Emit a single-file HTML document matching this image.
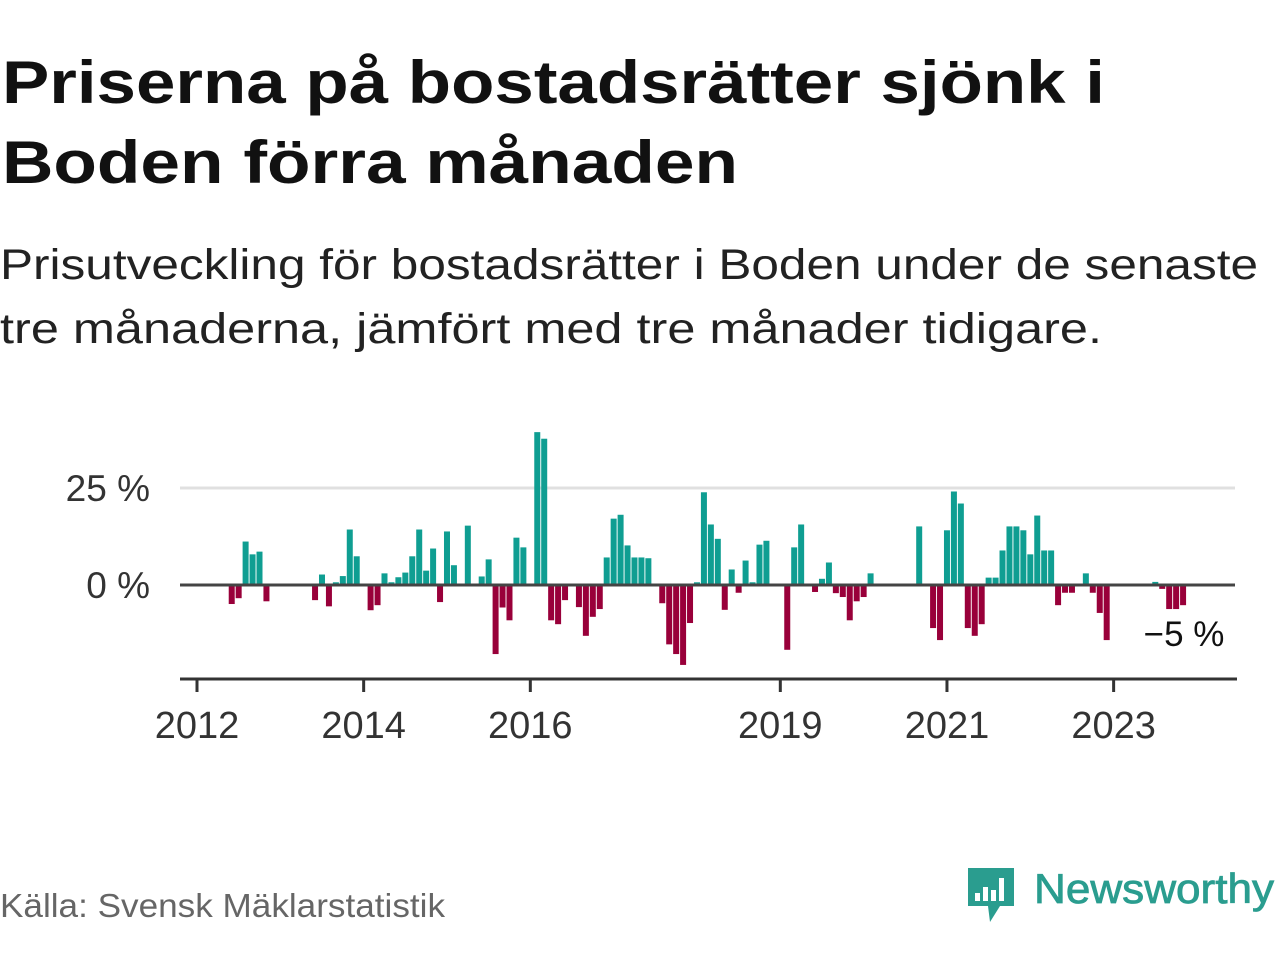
<!DOCTYPE html>
<html><head><meta charset="utf-8"><style>
html,body{margin:0;padding:0;background:#fff;}
svg{display:block;font-family:"Liberation Sans",sans-serif;}
</style></head><body>
<svg id="chart" width="1280" height="960" viewBox="0 0 1280 960">
<text x="2" y="103" font-size="60" font-weight="bold" fill="#111" textLength="1103" lengthAdjust="spacingAndGlyphs">Priserna på bostadsrätter sjönk i</text>
<text x="2" y="183" font-size="60" font-weight="bold" fill="#111" textLength="736" lengthAdjust="spacingAndGlyphs">Boden förra månaden</text>
<text x="0" y="279" font-size="43" fill="#222" textLength="1258" lengthAdjust="spacingAndGlyphs">Prisutveckling för bostadsrätter i Boden under de senaste</text>
<text x="0" y="343" font-size="43" fill="#222" textLength="1102" lengthAdjust="spacingAndGlyphs">tre månaderna, jämfört med tre månader tidigare.</text>
<g id="grid"></g>
<g id="bars"></g>
<g id="axis"></g>
<text x="1184" y="646" font-size="35" fill="#111" text-anchor="middle">−5 %</text>
<text x="0" y="917" font-size="33" fill="#666" textLength="445" lengthAdjust="spacingAndGlyphs">Källa: Svensk Mäklarstatistik</text>
<g>
<path d="M968 868 H1014 V906 H1000 L990 922 L988 906 H968 Z" fill="#2a9d8f"/>
<rect x="975" y="893" width="5" height="8" fill="#fff"/><rect x="983" y="887" width="5" height="14" fill="#fff"/><rect x="991" y="890" width="5" height="11" fill="#fff"/><rect x="999" y="878" width="5" height="23" fill="#fff"/>
<text x="1034" y="903" font-size="42" fill="#2a9d8f" stroke="#2a9d8f" stroke-width="0.8" textLength="240" lengthAdjust="spacingAndGlyphs">Newsworthy</text>
</g>
</svg>
<script>
const months = [5,6,7,8,9,10,17,18,19,20,21,22,23,25,26,27,28,29,30,31,32,33,34,35,36,37,39,41,42,43,44,45,46,47,49,50,51,52,53,55,56,57,58,59,60,61,62,63,64,65,67,68,69,70,71,72,73,74,75,76,77,78,79,80,81,82,85,86,87,89,90,91,92,93,94,95,96,97,104,106,107,108,109,110,111,112,113,114,115,116,117,118,119,120,121,122,123,124,125,126,128,129,130,131,138,139,140,141,142];
const values = [-4.9,-3.4,11.2,7.9,8.6,-4.2,-3.9,2.7,-5.5,0.7,2.3,14.3,7.4,-6.5,-5.2,3.0,0.7,2.0,3.2,7.4,14.3,3.7,9.4,-4.4,13.8,5.1,15.3,2.2,6.6,-17.8,-5.8,-9.1,12.2,9.7,39.4,37.7,-9.1,-10.1,-3.9,-5.7,-13.1,-8.2,-6.2,7.1,17.1,18.1,10.2,7.1,7.1,6.9,-4.7,-15.3,-17.8,-20.6,-9.8,0.7,23.9,15.6,11.9,-6.4,4.0,-2.0,6.3,0.7,10.4,11.4,-16.7,9.7,15.6,-1.8,1.6,5.8,-2.1,-3.1,-9.1,-4.2,-3.1,3.0,15.1,-11.1,-14.2,14.1,24.1,21.0,-11.1,-13.1,-10.1,1.9,1.9,8.9,15.1,15.1,14.1,7.9,17.9,8.9,8.9,-5.2,-2.0,-2.0,3.0,-2.0,-7.2,-14.2,0.8,-1.0,-6.2,-6.2,-5.2];
const yTicks = [0, 25];
const yTickLabels = ["0 %", "25 %"];
const xTickYears = [2012, 2014, 2016, 2019, 2021, 2023];
const NS = "http://www.w3.org/2000/svg";
const x = m => 197 + m * (83.33 / 12);
const xYear = yr => x((yr - 2012) * 12);
const y = v => 585 - v * 3.88;
function mk(tag, attrs, parent){const e=document.createElementNS(NS,tag);for(const k in attrs)e.setAttribute(k,attrs[k]);parent.appendChild(e);return e;}
const grid=document.getElementById('grid'), bars=document.getElementById('bars'), axis=document.getElementById('axis');
yTicks.forEach((t,i)=>{
  if(t!==0){const l=mk('line',{x1:180,x2:1235,y1:y(t),y2:y(t),stroke:'#e0e0e0','stroke-width':3},grid);
  
  }
  const tx=mk('text',{x:150,y:y(t)+13,'font-size':37,fill:'#333','text-anchor':'end'},grid);
  tx.textContent=yTickLabels[i];
  
  
});
months.forEach((m,i)=>{
  const v=values[i];
  const r=mk('rect',{x:x(m)-3,y:v>=0?y(v):585,width:6,height:Math.abs(y(v)-585),fill:v>=0?'#0f9e92':'#99003a'},bars);
  
  
});
const zl=mk('line',{x1:180,x2:1235,y1:585,y2:585,stroke:'#444','stroke-width':3},axis);


const ax=mk('line',{x1:180,x2:1237,y1:679,y2:679,stroke:'#333','stroke-width':3},axis);


xTickYears.forEach(yr=>{
  const tk=mk('line',{x1:xYear(yr),x2:xYear(yr),y1:679,y2:692,stroke:'#333','stroke-width':3},axis);
  
  
  const t=mk('text',{x:xYear(yr),y:738,'font-size':38,fill:'#333','text-anchor':'middle'},axis);
  t.textContent=yr;
  
  
});
</script>
</body></html>
